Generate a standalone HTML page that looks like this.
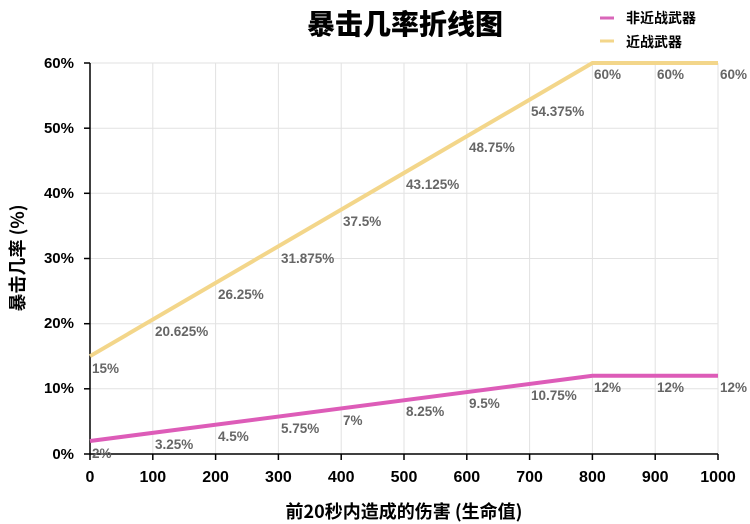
<!DOCTYPE html>
<html><head><meta charset="utf-8"><style>body{margin:0;background:#fff}svg{display:block}</style></head><body>
<svg width="750" height="524" xmlns="http://www.w3.org/2000/svg" font-family="Liberation Sans, Noto Sans CJK SC, sans-serif">
<text x="405" y="34" text-anchor="middle" font-size="28" font-weight="900" font-family="Noto Sans CJK SC, sans-serif">暴击几率折线图</text>
<line x1="600" y1="18" x2="614" y2="18" stroke="#d966b9" stroke-width="3"/>
<text x="626" y="23" font-size="14" font-weight="bold" font-family="Noto Sans CJK SC, sans-serif">非近战武器</text>
<line x1="600" y1="41" x2="614" y2="41" stroke="#f3d68a" stroke-width="3"/>
<text x="626" y="47" font-size="14" font-weight="bold" font-family="Noto Sans CJK SC, sans-serif">近战武器</text>
<g stroke="#e2e2e2" stroke-width="1">
<line x1="90" y1="63" x2="718" y2="63"/><line x1="90" y1="128.2" x2="718" y2="128.2"/><line x1="90" y1="193.3" x2="718" y2="193.3"/><line x1="90" y1="258.5" x2="718" y2="258.5"/><line x1="90" y1="323.7" x2="718" y2="323.7"/><line x1="90" y1="388.8" x2="718" y2="388.8"/>
<line x1="152.8" y1="63" x2="152.8" y2="454"/><line x1="215.6" y1="63" x2="215.6" y2="454"/><line x1="278.4" y1="63" x2="278.4" y2="454"/><line x1="341.2" y1="63" x2="341.2" y2="454"/><line x1="404" y1="63" x2="404" y2="454"/><line x1="466.8" y1="63" x2="466.8" y2="454"/><line x1="529.6" y1="63" x2="529.6" y2="454"/><line x1="592.4" y1="63" x2="592.4" y2="454"/><line x1="655.2" y1="63" x2="655.2" y2="454"/><line x1="718" y1="63" x2="718" y2="454"/>
</g>
<g stroke="#000" stroke-width="1.5">
<line x1="90" y1="63" x2="90" y2="454"/><line x1="90" y1="454" x2="718" y2="454"/>
<line x1="84" y1="63" x2="90" y2="63"/><line x1="84" y1="128.2" x2="90" y2="128.2"/><line x1="84" y1="193.3" x2="90" y2="193.3"/><line x1="84" y1="258.5" x2="90" y2="258.5"/><line x1="84" y1="323.7" x2="90" y2="323.7"/><line x1="84" y1="388.8" x2="90" y2="388.8"/><line x1="84" y1="454" x2="90" y2="454"/>
<line x1="90" y1="454" x2="90" y2="460"/><line x1="152.8" y1="454" x2="152.8" y2="460"/><line x1="215.6" y1="454" x2="215.6" y2="460"/><line x1="278.4" y1="454" x2="278.4" y2="460"/><line x1="341.2" y1="454" x2="341.2" y2="460"/><line x1="404" y1="454" x2="404" y2="460"/><line x1="466.8" y1="454" x2="466.8" y2="460"/><line x1="529.6" y1="454" x2="529.6" y2="460"/><line x1="592.4" y1="454" x2="592.4" y2="460"/><line x1="655.2" y1="454" x2="655.2" y2="460"/><line x1="718" y1="454" x2="718" y2="460"/>
</g>
<g font-size="15" font-weight="bold" text-anchor="end">
<text x="74" y="68">60%</text><text x="74" y="133">50%</text><text x="74" y="198">40%</text><text x="74" y="263">30%</text><text x="74" y="328">20%</text><text x="74" y="393">10%</text><text x="74" y="459">0%</text>
</g>
<g font-size="16" font-weight="bold" text-anchor="middle">
<text x="90" y="482">0</text><text x="152.8" y="482">100</text><text x="215.6" y="482">200</text><text x="278.4" y="482">300</text><text x="341.2" y="482">400</text><text x="404" y="482">500</text><text x="466.8" y="482">600</text><text x="529.6" y="482">700</text><text x="592.4" y="482">800</text><text x="655.2" y="482">900</text><text x="718" y="482">1000</text>
</g>
<text x="404" y="518" text-anchor="middle" font-size="18" font-weight="bold" font-family="Noto Sans CJK SC, sans-serif">前20秒内造成的伤害 (生命值)</text>
<text transform="translate(24,258) rotate(-90)" text-anchor="middle" font-size="18" font-weight="bold" font-family="Noto Sans CJK SC, sans-serif">暴击几率 (%)</text>
<polyline points="90,356.2 592.4,63 718,63" fill="none" stroke="#f3d68a" stroke-width="4"/>
<polyline points="90,441 592.4,375.8 718,375.8" fill="none" stroke="#dd5cb8" stroke-width="4"/>
<g font-size="13.5" font-weight="bold" fill="#666">
<text x="92" y="373">15%</text><text x="155" y="336">20.625%</text><text x="218" y="299">26.25%</text><text x="281" y="263">31.875%</text><text x="343" y="226">37.5%</text><text x="406" y="189">43.125%</text><text x="469" y="152">48.75%</text><text x="531" y="116">54.375%</text><text x="594" y="79">60%</text><text x="657" y="79">60%</text><text x="720" y="79">60%</text>
<text x="92" y="458">2%</text><text x="155" y="449">3.25%</text><text x="218" y="441">4.5%</text><text x="281" y="433">5.75%</text><text x="343" y="425">7%</text><text x="406" y="416">8.25%</text><text x="469" y="408">9.5%</text><text x="531" y="400">10.75%</text><text x="594" y="392">12%</text><text x="657" y="392">12%</text><text x="720" y="392">12%</text>
</g>
</svg>
</body></html>
